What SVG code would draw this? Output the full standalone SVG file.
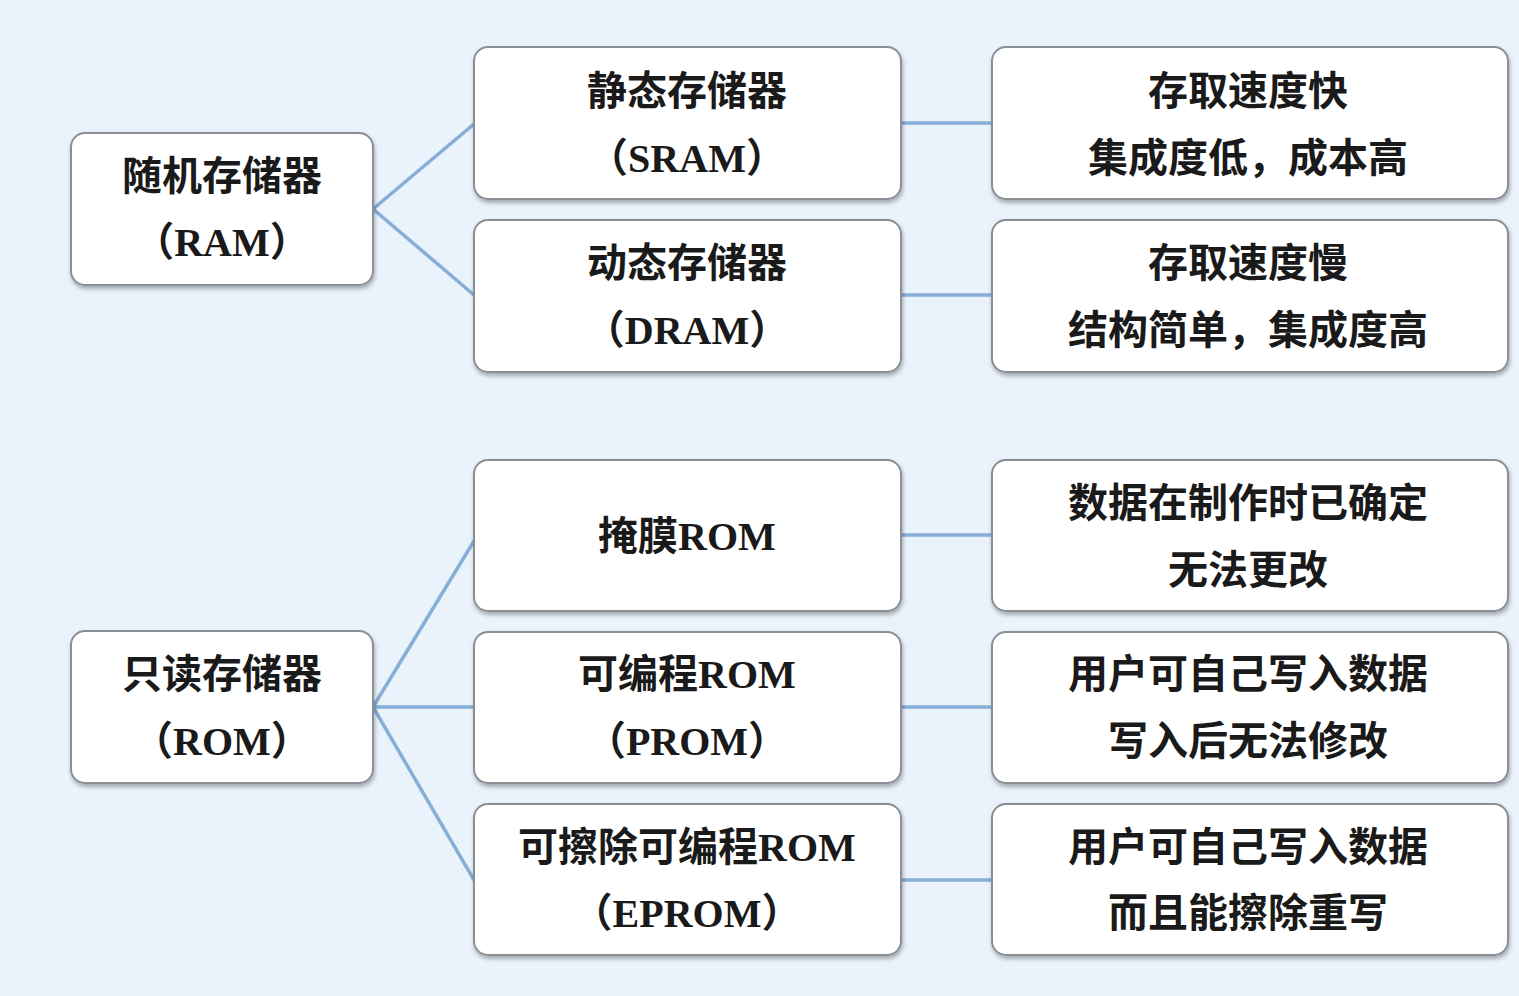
<svg xmlns="http://www.w3.org/2000/svg" width="1519" height="996" viewBox="0 0 1519 996">
<defs>
<style>
.n rect{fill:#fff;stroke:#8a8f96;stroke-width:2;filter:url(#sh)}
.n text{font-family:"Liberation Serif","Noto Sans CJK SC",serif;font-weight:bold;font-size:40px;fill:#1a1a1a;text-anchor:middle}
.c line{stroke:#86aed6;stroke-width:3.5}
</style>
<filter id="sh" x="-5%" y="-5%" width="110%" height="115%"><feDropShadow dx="1" dy="3" stdDeviation="2" flood-color="#000" flood-opacity="0.3"/></filter>
</defs>
<rect width="1519" height="996" fill="#eaf3fc"/>
<g class="c">
<line x1="373" y1="209" x2="474" y2="124"/>
<line x1="373" y1="209" x2="474" y2="295"/>
<line x1="373" y1="707" x2="474" y2="541"/>
<line x1="373" y1="707" x2="474" y2="707"/>
<line x1="373" y1="707" x2="474" y2="880"/>
<line x1="901" y1="123" x2="992" y2="123"/>
<line x1="901" y1="295" x2="992" y2="295"/>
<line x1="901" y1="535" x2="992" y2="535"/>
<line x1="901" y1="707" x2="992" y2="707"/>
<line x1="901" y1="880" x2="992" y2="880"/>
</g>
<g class="n" id="ram"><rect x="71" y="133" width="302" height="152" rx="14"/><text x="222" y="190">随机存储器</text><text x="222" y="256">（RAM）</text></g>
<g class="n" id="sram"><rect x="474" y="47" width="427" height="152" rx="14"/><text x="687" y="105">静态存储器</text><text x="687" y="172">（SRAM）</text></g>
<g class="n" id="dram"><rect x="474" y="220" width="427" height="152" rx="14"/><text x="687" y="277">动态存储器</text><text x="687" y="344">（DRAM）</text></g>
<g class="n" id="fast"><rect x="992" y="47" width="516" height="152" rx="14"/><text x="1248" y="105">存取速度快</text><text x="1248" y="172">集成度低，成本高</text></g>
<g class="n" id="slow"><rect x="992" y="220" width="516" height="152" rx="14"/><text x="1248" y="277">存取速度慢</text><text x="1248" y="344">结构简单，集成度高</text></g>
<g class="n" id="rom"><rect x="71" y="631" width="302" height="152" rx="14"/><text x="222" y="688">只读存储器</text><text x="222" y="755">（ROM）</text></g>
<g class="n" id="mask"><rect x="474" y="460" width="427" height="151" rx="14"/><text x="687" y="550">掩膜ROM</text></g>
<g class="n" id="prom"><rect x="474" y="632" width="427" height="151" rx="14"/><text x="687" y="688">可编程ROM</text><text x="687" y="755">（PROM）</text></g>
<g class="n" id="eprom"><rect x="474" y="804" width="427" height="151" rx="14"/><text x="687" y="861">可擦除可编程ROM</text><text x="687" y="927">（EPROM）</text></g>
<g class="n" id="maskd"><rect x="992" y="460" width="516" height="151" rx="14"/><text x="1248" y="517">数据在制作时已确定</text><text x="1248" y="584">无法更改</text></g>
<g class="n" id="promd"><rect x="992" y="632" width="516" height="151" rx="14"/><text x="1248" y="688">用户可自己写入数据</text><text x="1248" y="755">写入后无法修改</text></g>
<g class="n" id="epromd"><rect x="992" y="804" width="516" height="151" rx="14"/><text x="1248" y="861">用户可自己写入数据</text><text x="1248" y="927">而且能擦除重写</text></g>
</svg>
